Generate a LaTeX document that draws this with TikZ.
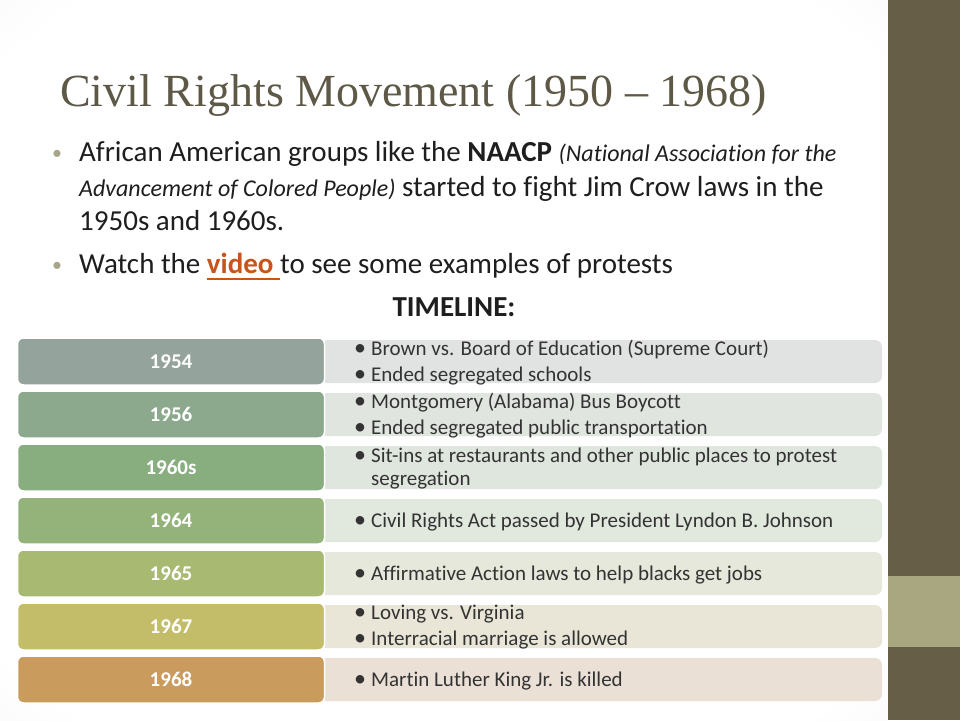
\documentclass[tikz,border=0pt]{standalone}
\usepackage{fontspec}
\setmainfont{Carlito}[Ligatures={CommonOff}]
\newfontfamily\titlefont{Liberation Serif}
\definecolor{barDark}{HTML}{675E48}
\definecolor{barLight}{HTML}{A9A77F}
\definecolor{titleC}{HTML}{5E5846}
\definecolor{bulletC}{HTML}{A8A68A}
\definecolor{textC}{HTML}{1E1E1E}
\definecolor{itemC}{HTML}{333333}
\definecolor{linkC}{HTML}{C9541A}
\definecolor{yA}{HTML}{94A39B}\definecolor{rA}{HTML}{E1E3E2}
\definecolor{yB}{HTML}{8CA98E}\definecolor{rB}{HTML}{E0E5E0}
\definecolor{yC}{HTML}{88AE80}\definecolor{rC}{HTML}{DFE6DD}
\definecolor{yD}{HTML}{93B37A}\definecolor{rD}{HTML}{E1E8DD}
\definecolor{yE}{HTML}{A8BA72}\definecolor{rE}{HTML}{E5E8DB}
\definecolor{yF}{HTML}{C3BD6A}\definecolor{rF}{HTML}{E9E6D8}
\definecolor{yG}{HTML}{C99B5C}\definecolor{rG}{HTML}{EBE0D6}
\pgfdeclareradialshading{slidebg}{\pgfpoint{0bp}{0bp}}{color(0bp)=(white); color(32bp)=(white); color(50bp)=(black!7); color(70bp)=(black!14)}
\tikzset{
  yearbox/.style={rounded corners=6pt, draw=white, line width=1.5pt, minimum width=307pt, minimum height=47pt, inner sep=0pt, text=white, font=\fontsize{21}{24}\selectfont\bfseries},
  infobox/.style={rounded corners=7pt, minimum width=562pt, minimum height=43pt, inner sep=0pt},
  itemtext/.style={anchor=base west, inner sep=0pt, text=itemC, font=\fontsize{21}{24}\selectfont},
  itembullet/.style={anchor=base west, inner sep=0pt, text=itemC, font=\fontsize{24}{24}\selectfont},
  bodytext/.style={anchor=base west, inner sep=0pt, text=textC, font=\fontsize{29}{34}\selectfont},
  bodybullet/.style={anchor=base west, inner sep=0pt, text=bulletC, font=\fontsize{20}{22}\selectfont},
}
\newcommand{\rowitem}[3]{%
  \node[itembullet] (#1b) at (354,#2) {•};
  \node[itemtext] (#1) at (371,#2) {#3};
}
\newcommand{\myul}[1]{\setbox0\hbox{#1}\rlap{\rule[-6.5pt]{\wd0}{1.8pt}}\box0}
\begin{document}
\begin{tikzpicture}[x=1pt,y=-1pt]
\useasboundingbox (0,0) rectangle (960,720);
% background
\shade[shading=slidebg] (0,0) rectangle (888,720);
\fill[barDark] (888,0) rectangle (960,720);
\fill[barLight] (888,576) rectangle (960,647);
% title
\node[anchor=base west, inner sep=0pt, text=titleC, font=\titlefont\fontsize{46}{52}\selectfont] (title) at (60,106) {Civil Rights Movement (1950 – 1968)};
% bullets
\node[bodybullet] (b1) at (52,159) {•};
\node[bodytext] (t1) at (79,161) {African American groups like the \textbf{NAACP} {\fontsize{24}{28}\selectfont\itshape (National Association for the}};
\node[bodytext] (t2) at (79,196) {{\fontsize{24}{28}\selectfont\itshape Advancement of Colored People)} started to fight Jim Crow laws in the};
\node[bodytext] (t3) at (79,230) {1950s and 1960s.};
\node[bodybullet] (b2) at (52,271) {•};
\node[bodytext] (t4) at (79,273) {Watch the {\color{linkC}\bfseries\myul{video }}to see some examples of protests};
\node[anchor=base, inner sep=0pt, text=textC, font=\fontsize{29}{34}\selectfont\bfseries] (tl) at (454,316) {TIMELINE:};
% rows
% 1954
\node[infobox, fill=rA] (r1) at (601,361.5) {};
\node[yearbox, fill=yA] (y1) at (171,361.5) {1954};
\rowitem{i1a}{355}{Brown vs. Board of Education (Supreme Court)}
\rowitem{i1b}{381}{Ended segregated schools}
% 1956
\node[infobox, fill=rB] (r2) at (601,414.5) {};
\node[yearbox, fill=yB] (y2) at (171,414.5) {1956};
\rowitem{i2a}{408}{Montgomery (Alabama) Bus Boycott}
\rowitem{i2b}{434}{Ended segregated public transportation}
% 1960s
\node[infobox, fill=rC] (r3) at (601,467.5) {};
\node[yearbox, fill=yC] (y3) at (171,467.5) {1960s};
\rowitem{i3a}{462}{Sit-ins at restaurants and other public places to protest}
\node[itemtext] (i3c) at (371,485) {segregation};
% 1964
\node[infobox, fill=rD] (r4) at (601,520.5) {};
\node[yearbox, fill=yD] (y4) at (171,520.5) {1964};
\rowitem{i4a}{527}{Civil Rights Act passed by President Lyndon B. Johnson}
% 1965
\node[infobox, fill=rE] (r5) at (601,573.5) {};
\node[yearbox, fill=yE] (y5) at (171,573.5) {1965};
\rowitem{i5a}{580}{Affirmative Action laws to help blacks get jobs}
% 1967
\node[infobox, fill=rF] (r6) at (601,626.5) {};
\node[yearbox, fill=yF] (y6) at (171,626.5) {1967};
\rowitem{i6a}{619}{Loving vs. Virginia}
\rowitem{i6b}{645}{Interracial marriage is allowed}
% 1968
\node[infobox, fill=rG] (r7) at (601,679.5) {};
\node[yearbox, fill=yG] (y7) at (171,679.5) {1968};
\rowitem{i7a}{686}{Martin Luther King Jr. is killed}
\end{tikzpicture}
\end{document}
